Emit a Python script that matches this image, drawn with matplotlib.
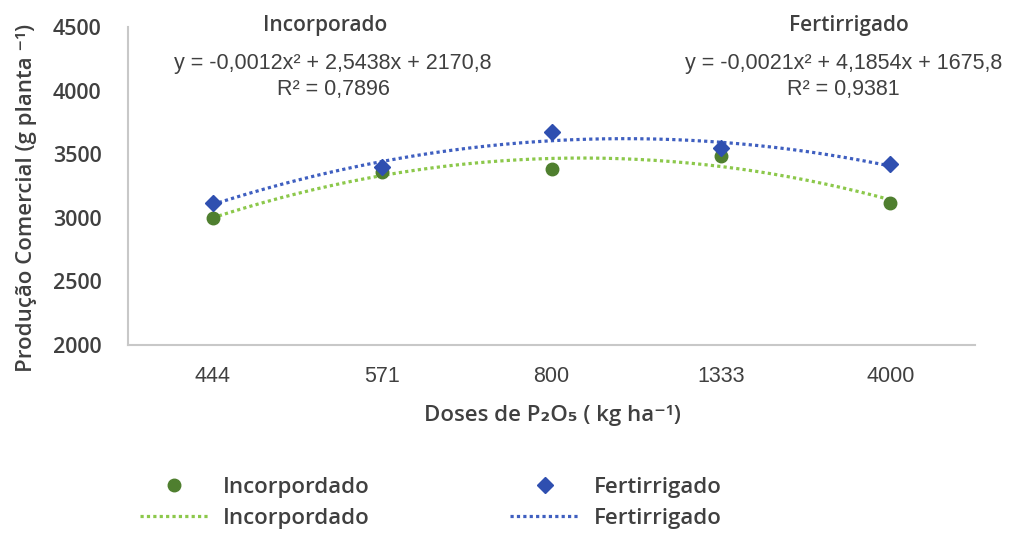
import numpy as np
import matplotlib
matplotlib.use("Agg")
import matplotlib.pyplot as plt
from matplotlib.lines import Line2D

# data
doses = ["444", "571", "800", "1333", "4000"]
incorporado = [3000, 3360, 3385, 3485, 3115]
fertirrigado = [3115, 3400, 3675, 3545, 3420]

eq_inc = "y = -0,0012x² + 2,5438x + 2170,8\nR² = 0,7896"
eq_fert = "y = -0,0021x² + 4,1854x + 1675,8\nR² = 0,9381"

c_inc = "#4f7f2f"
c_fert = "#2f4fb0"
c_inc_line = "#8cc84b"
c_fert_line = "#3f5fc0"
c_text = "#404040"

plt.rcParams['font.family'] = ['Open Sans', 'DejaVu Sans']

fig = plt.figure(figsize=(10.13, 5.36), dpi=100)
ax = fig.add_axes([0.1264, 0.3563, 0.8361, 0.5933])

x = np.arange(1, len(doses) + 1)
xs = np.linspace(1, len(doses), 200)

# quadratic trend lines (fitted on category positions, like the spreadsheet)
p_inc = np.polyfit(x, incorporado, 2)
p_fert = np.polyfit(x, fertirrigado, 2)
dots = (0, (1, 1))
ax.plot(xs, np.polyval(p_inc, xs), color=c_inc_line, linestyle=dots, lw=2.3, zorder=2)
ax.plot(xs, np.polyval(p_fert, xs), color=c_fert_line, linestyle=dots, lw=2.3, zorder=2)

ax.plot(x, incorporado, 'o', color=c_inc, markersize=9, zorder=3)
ax.plot(x, fertirrigado, 'D', color=c_fert, markersize=8, zorder=3)

ax.set_xlim(0.5, len(doses) + 0.5)
ax.set_ylim(2000, 4500)
ax.set_yticks([2000, 2500, 3000, 3500, 4000, 4500])
ax.set_xticks(x)
ax.set_xticklabels(doses, family='Liberation Sans', fontsize=15.5, color=c_text)
ax.tick_params(axis='y', labelsize=15.5, colors=c_text, length=0, pad=19)
ax.tick_params(axis='x', length=0, pad=15)
for lab in ax.get_yticklabels():
    lab.set_fontweight('semibold')

for s in ['top', 'right']:
    ax.spines[s].set_visible(False)
for s in ['left', 'bottom']:
    ax.spines[s].set_color('#c8c8c8')
    ax.spines[s].set_linewidth(1.5)

fig.text(27 / 1013, 1 - 198 / 536, "Produção Comercial (g planta ⁻¹)", rotation=90,
         ha='center', va='center', fontsize=16, color=c_text, fontweight='semibold')
fig.text(552 / 1013, 1 - 416 / 536, "Doses de P₂O₅ ( kg ha⁻¹)",
         ha='center', va='center', fontsize=16, color=c_text, fontweight='semibold')

# panel texts
ax.text(0.233, 1.006, "Incorporado", transform=ax.transAxes, ha='center', va='center',
        fontsize=15, color=c_text, fontweight='semibold')
ax.text(0.242, 0.844, eq_inc, transform=ax.transAxes, ha='center', va='center',
        fontsize=15.5, color=c_text, family='Liberation Sans', linespacing=1.35)
ax.text(0.851, 1.006, "Fertirrigado", transform=ax.transAxes, ha='center', va='center',
        fontsize=15, color=c_text, fontweight='semibold')
ax.text(0.845, 0.844, eq_fert, transform=ax.transAxes, ha='center', va='center',
        fontsize=15.5, color=c_text, family='Liberation Sans', linespacing=1.35)

handles = [
    Line2D([], [], marker='o', color=c_inc, linestyle='none', markersize=9),
    Line2D([], [], color=c_inc_line, linestyle=dots, lw=2.3),
    Line2D([], [], marker='D', color=c_fert, linestyle='none', markersize=8),
    Line2D([], [], color=c_fert_line, linestyle=dots, lw=2.3),
]
labels = ["Incorpordado", "Incorpordado", "Fertirrigado", "Fertirrigado"]
leg = fig.legend(handles, labels, ncol=2, loc='center left', bbox_to_anchor=(140 / 1013, 1 - 503 / 536),
                 frameon=False, fontsize=16, columnspacing=6.3, handlelength=3.1,
                 handletextpad=0.65, labelspacing=0.45, borderpad=0, borderaxespad=0)
for t in leg.get_texts():
    t.set_color(c_text)
    t.set_fontweight('semibold')

fig.savefig("out.png", dpi=100, facecolor='white')
